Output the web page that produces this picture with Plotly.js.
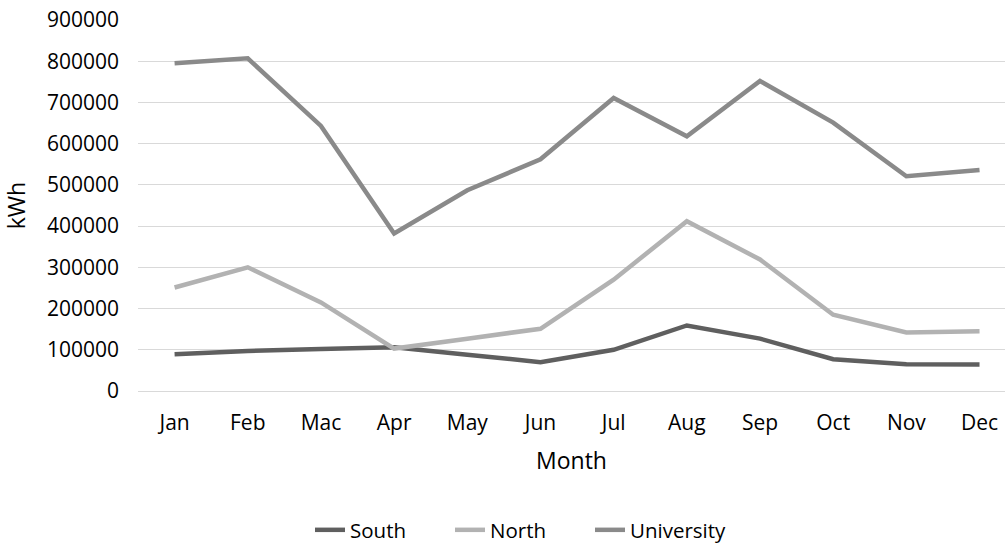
<!DOCTYPE html>
<html>
<head>
<meta charset="utf-8">
<script src="https://cdn.plot.ly/plotly-3.0.1.min.js"></script>
<style>
  html, body { margin: 0; padding: 0; background: #ffffff; }
  #chart { width: 1005px; height: 547px; }
</style>
</head>
<body>
<div id="chart"></div>
<script>
// Monthly electricity consumption (kWh)
const months = ["Jan", "Feb", "Mac", "Apr", "May", "Jun", "Jul", "Aug", "Sep", "Oct", "Nov", "Dec"];
const south = [89000, 97000, 102000, 106000, 88000, 70000, 100000, 159000, 127000, 77000, 65000, 64000];
const north = [251000, 300000, 215000, 103000, 127000, 151000, 270000, 412000, 319000, 185000, 142000, 145000];
const university = [795000, 807000, 643000, 382000, 487000, 562000, 711000, 618000, 752000, 651000, 521000, 536000];

const FONT = "Open Sans, Lato, sans-serif";

function series(name, values, color) {
  return {
    type: "scatter",
    mode: "lines",
    name: name,
    x: months,
    y: values,
    line: { color: color, width: 4.5 },
    hoverinfo: "x+y+name"
  };
}

const data = [
  series("South", south, "#5f5f5f"),
  series("North", north, "#b2b2b2"),
  series("University", university, "#8a8a8a")
];

const layout = {
  width: 1005,
  height: 547,
  margin: { l: 138, r: 0, t: 20, b: 156 },
  paper_bgcolor: "#ffffff",
  plot_bgcolor: "#ffffff",
  font: { family: FONT, size: 21, color: "#000000" },
  showlegend: true,
  xaxis: {
    type: "category",
    range: [-0.5, 11.348],
    showgrid: false,
    zeroline: false,
    showline: false,
    ticks: "",
    ticklabelstandoff: 17,
    tickfont: { family: FONT, size: 21, color: "#000000" },
    title: { text: "Month", font: { family: FONT, size: 23, color: "#000000" }, standoff: 17 },
    fixedrange: true
  },
  yaxis: {
    range: [0, 900000],
    tick0: 0,
    dtick: 100000,
    tickformat: "d",
    showgrid: true,
    gridcolor: "#d9d9d9",
    gridwidth: 1,
    zeroline: true,
    zerolinecolor: "#d9d9d9",
    zerolinewidth: 1,
    showline: false,
    ticks: "",
    ticklabelstandoff: 18,
    tickfont: { family: FONT, size: 21, color: "#000000" },
    title: { text: "kWh", font: { family: FONT, size: 23, color: "#000000" }, standoff: 14 },
    fixedrange: true
  },
  legend: {
    orientation: "h",
    xref: "container",
    yref: "container",
    x: 310 / 1005,
    xanchor: "left",
    y: 1 - 530 / 547,
    yanchor: "middle",
    font: { family: FONT, size: 20.5, color: "#000000" },
    bgcolor: "rgba(0,0,0,0)",
    entrywidthmode: "pixels",
    entrywidth: 95,
    itemwidth: 30
  }
};

Plotly.newPlot("chart", data, layout, { displayModeBar: false, staticPlot: true });
</script>
</body>
</html>
